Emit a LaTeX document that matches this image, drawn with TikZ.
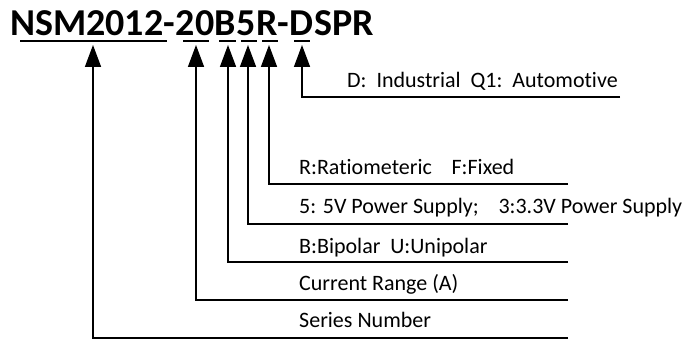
\documentclass[tikz,border=0pt]{standalone}
\usepackage{fontspec}
\setmainfont{Carlito}[Ligatures=NoCommon]
\usetikzlibrary{arrows.meta}

\tikzset{
	title/.style = {font=\fontsize{38}{40}\selectfont\bfseries, inner sep=0pt, anchor=base west},
	label/.style = {font=\fontsize{22}{24}\selectfont, inner sep=0pt, anchor=base west},
	under/.style = {line width=2pt},
	lead/.style  = {line width=1.6pt, -{Triangle[length=22pt, width=16pt]}}
}

\begin{document}
\begin{tikzpicture}[x=1pt, y=-1pt]
	\useasboundingbox (0,0) rectangle (684,339);

	\node[title] (ser) at (10,36) {NSM2012};
	\node[title] (da) at (ser.base east) {-};
	\node[title] (cur) at (da.base east) {20};
	\node[title] (pol) at (cur.base east) {B};
	\node[title] (sup) at (pol.base east) {5};
	\node[title] (out) at (sup.base east) {R};
	\node[title] (db) at (out.base east) {-};
	\node[title] (grd) at (db.base east) {D};
	\node[title] (pkg) at (grd.base east) {SPR};

	\coordinate (T1) at (93,45);   \coordinate (E1) at (568,338);
	\coordinate (T2) at (196,45);  \coordinate (E2) at (568,300);
	\coordinate (T3) at (228,45);  \coordinate (E3) at (568,262);
	\coordinate (T4) at (248,45);  \coordinate (E4) at (568,224);
	\coordinate (T5) at (269,45);  \coordinate (E5) at (568,184);
	\coordinate (T6) at (302,45);  \coordinate (E6) at (620,97);

	\draw[under] (20,41) -- (167,41);
	\draw[under] (183,41) -- (209,41);
	\draw[under] (219,41) -- (236,41);
	\draw[under] (241,41) -- (257,41);
	\draw[under] (262,41) -- (278,41);
	\draw[under] (294,41) -- (310,41);

	\draw[lead] (E1) -| (T1);
	\draw[lead] (E2) -| (T2);
	\draw[lead] (E3) -| (T3);
	\draw[lead] (E4) -| (T4);
	\draw[lead] (E5) -| (T5);
	\draw[lead] (E6) -| (T6);

	\node[label] (lser) at (299,327) {Series Number};
	\node[label] (lcur) at (299,290) {Current Range (A)};
	\node[label] (lpol) at (299,253) {B:Bipolar\hspace{0.45em}U:Unipolar};
	\node[label] (lsup) at (299,213) {5: 5V Power Supply;\hspace{0.9em}3:3.3V Power Supply};
	\node[label] (lout) at (299,174) {R:Ratiometeric\hspace{0.9em}F:Fixed};
	\node[label] (lgrd) at (347,88) {D:\hspace{0.45em}Industrial\hspace{0.45em}Q1:\hspace{0.45em}Automotive};
\end{tikzpicture}
\end{document}
